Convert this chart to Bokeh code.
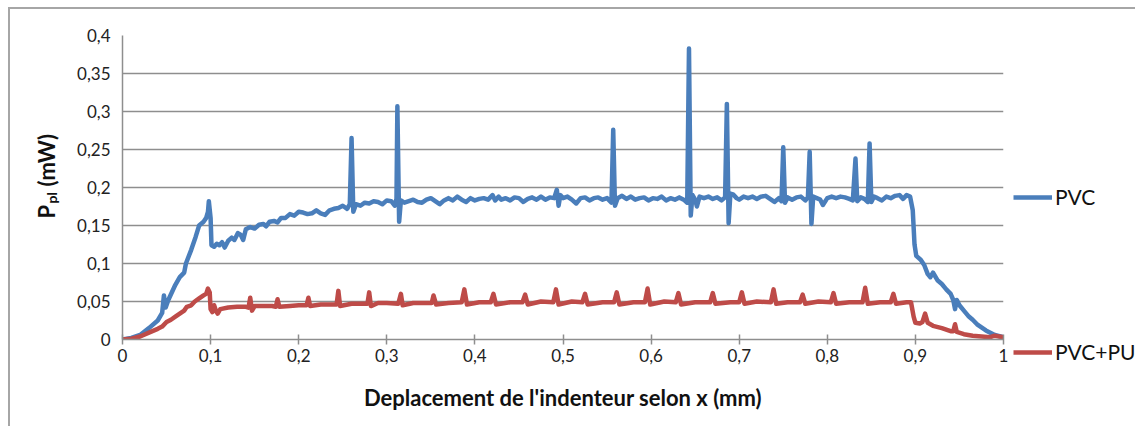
import math
from bokeh.plotting import figure
from bokeh.layouts import row
from bokeh.models import Legend, LegendItem, FixedTicker, Range1d
from bokeh.core.properties import value
from bokeh.embed import file_html
from bokeh.resources import INLINE

# ---- data ----
pvc_x = [0.000, 0.010, 0.020, 0.030, 0.040, 0.045, 0.047, 0.049, 0.052, 0.060, 0.065, 0.070, 0.072, 0.078,
         0.083, 0.087, 0.092, 0.095, 0.097, 0.098, 0.100, 0.101, 0.104, 0.107, 0.110, 0.113, 0.116, 0.120,
         0.124, 0.127, 0.131, 0.134, 0.137, 0.140, 0.145, 0.150, 0.155, 0.160, 0.163, 0.167, 0.172, 0.176,
         0.180, 0.185, 0.190, 0.195, 0.200, 0.205, 0.210, 0.215, 0.220, 0.225, 0.230, 0.235, 0.240, 0.245,
         0.250, 0.255, 0.258, 0.260, 0.262, 0.265, 0.270, 0.275, 0.280, 0.285, 0.290, 0.295, 0.300, 0.305,
         0.309, 0.311, 0.312, 0.314, 0.316, 0.320, 0.325, 0.330, 0.335, 0.340, 0.345, 0.350, 0.355, 0.360,
         0.365, 0.370, 0.375, 0.380, 0.385, 0.390, 0.395, 0.400, 0.405, 0.410, 0.415, 0.420, 0.423, 0.427,
         0.430, 0.435, 0.440, 0.445, 0.450, 0.455, 0.460, 0.465, 0.470, 0.475, 0.480, 0.485, 0.490, 0.493,
         0.495, 0.497, 0.500, 0.505, 0.510, 0.515, 0.520, 0.525, 0.530, 0.535, 0.540, 0.545, 0.550, 0.555,
         0.557, 0.559, 0.562, 0.567, 0.572, 0.577, 0.582, 0.587, 0.592, 0.597, 0.602, 0.607, 0.612, 0.617,
         0.622, 0.627, 0.632, 0.637, 0.641, 0.643, 0.645, 0.647, 0.650, 0.652, 0.655, 0.660, 0.665, 0.670,
         0.675, 0.680, 0.684, 0.686, 0.688, 0.690, 0.693, 0.697, 0.700, 0.705, 0.710, 0.715, 0.720, 0.725,
         0.730, 0.735, 0.740, 0.745, 0.748, 0.750, 0.752, 0.755, 0.760, 0.765, 0.770, 0.775, 0.778, 0.780,
         0.782, 0.784, 0.788, 0.792, 0.795, 0.800, 0.805, 0.810, 0.815, 0.820, 0.825, 0.829, 0.832, 0.834,
         0.838, 0.842, 0.846, 0.848, 0.850, 0.853, 0.857, 0.862, 0.867, 0.872, 0.877, 0.882, 0.886, 0.890,
         0.894, 0.897, 0.899, 0.901, 0.906, 0.910, 0.914, 0.917, 0.920, 0.925, 0.930, 0.935, 0.940, 0.943,
         0.945, 0.947, 0.950, 0.955, 0.960, 0.965, 0.970, 0.975, 0.980, 0.985, 0.990, 1.000]
pvc_y = [0.000, 0.002, 0.006, 0.015, 0.025, 0.035, 0.058, 0.042, 0.052, 0.072, 0.082, 0.088, 0.100, 0.118,
         0.135, 0.150, 0.155, 0.160, 0.168, 0.182, 0.160, 0.124, 0.122, 0.126, 0.124, 0.128, 0.121, 0.130,
         0.134, 0.131, 0.140, 0.138, 0.131, 0.145, 0.148, 0.146, 0.151, 0.152, 0.149, 0.155, 0.156, 0.154,
         0.160, 0.160, 0.165, 0.163, 0.168, 0.167, 0.165, 0.166, 0.170, 0.166, 0.164, 0.170, 0.172, 0.173,
         0.176, 0.172, 0.178, 0.265, 0.168, 0.178, 0.176, 0.180, 0.179, 0.182, 0.181, 0.178, 0.183, 0.182,
         0.176, 0.185, 0.307, 0.155, 0.183, 0.180, 0.182, 0.184, 0.181, 0.180, 0.184, 0.186, 0.182, 0.178,
         0.183, 0.186, 0.183, 0.188, 0.184, 0.181, 0.186, 0.183, 0.185, 0.186, 0.184, 0.190, 0.183, 0.188,
         0.184, 0.186, 0.183, 0.187, 0.186, 0.181, 0.185, 0.187, 0.184, 0.188, 0.184, 0.187, 0.186, 0.197,
         0.176, 0.190, 0.186, 0.188, 0.184, 0.179, 0.186, 0.187, 0.183, 0.186, 0.187, 0.184, 0.186, 0.180,
         0.276, 0.176, 0.186, 0.189, 0.185, 0.188, 0.184, 0.186, 0.187, 0.183, 0.186, 0.185, 0.188, 0.183,
         0.186, 0.184, 0.187, 0.184, 0.180, 0.383, 0.163, 0.190, 0.184, 0.175, 0.188, 0.186, 0.188, 0.185,
         0.187, 0.183, 0.187, 0.310, 0.153, 0.192, 0.191, 0.186, 0.184, 0.188, 0.186, 0.188, 0.185, 0.188,
         0.189, 0.185, 0.181, 0.186, 0.182, 0.253, 0.180, 0.187, 0.184, 0.187, 0.188, 0.183, 0.187, 0.247,
         0.152, 0.188, 0.186, 0.184, 0.177, 0.186, 0.188, 0.186, 0.188, 0.187, 0.185, 0.183, 0.238, 0.182,
         0.187, 0.185, 0.181, 0.258, 0.181, 0.188, 0.186, 0.183, 0.188, 0.186, 0.189, 0.190, 0.185, 0.190,
         0.188, 0.170, 0.125, 0.110, 0.105, 0.098, 0.086, 0.082, 0.088, 0.078, 0.073, 0.066, 0.060, 0.052,
         0.040, 0.052, 0.045, 0.038, 0.031, 0.026, 0.020, 0.016, 0.012, 0.009, 0.006, 0.003]

pu_x = [0.000, 0.010, 0.020, 0.030, 0.040, 0.045, 0.050, 0.055, 0.060, 0.065, 0.070, 0.073, 0.078, 0.082,
        0.087, 0.092, 0.095, 0.097, 0.099, 0.100, 0.102, 0.104, 0.106, 0.108, 0.111, 0.120, 0.130, 0.140,
        0.143, 0.145, 0.147, 0.150, 0.160, 0.170, 0.174, 0.176, 0.178, 0.190, 0.200, 0.209, 0.211, 0.213,
        0.225, 0.235, 0.243, 0.245, 0.247, 0.260, 0.270, 0.278, 0.280, 0.282, 0.290, 0.300, 0.313, 0.316,
        0.318, 0.330, 0.345, 0.351, 0.353, 0.356, 0.370, 0.385, 0.388, 0.391, 0.405, 0.418, 0.421, 0.424,
        0.440, 0.454, 0.457, 0.460, 0.475, 0.489, 0.492, 0.495, 0.510, 0.522, 0.525, 0.528, 0.545, 0.558,
        0.561, 0.564, 0.580, 0.593, 0.596, 0.599, 0.615, 0.628, 0.631, 0.634, 0.650, 0.667, 0.670, 0.673,
        0.690, 0.700, 0.703, 0.706, 0.720, 0.736, 0.739, 0.742, 0.755, 0.769, 0.772, 0.775, 0.790, 0.804,
        0.807, 0.810, 0.825, 0.840, 0.843, 0.846, 0.860, 0.872, 0.875, 0.878, 0.890, 0.895, 0.898, 0.900,
        0.905, 0.908, 0.911, 0.914, 0.920, 0.930, 0.940, 0.943, 0.945, 0.947, 0.955, 0.965, 0.975, 0.985,
        0.990, 1.000]
pu_y = [0.000, 0.001, 0.004, 0.009, 0.014, 0.017, 0.023, 0.026, 0.030, 0.034, 0.038, 0.043, 0.045, 0.050,
        0.054, 0.058, 0.060, 0.067, 0.062, 0.040, 0.036, 0.045, 0.038, 0.034, 0.040, 0.042, 0.043, 0.043,
        0.042, 0.055, 0.038, 0.044, 0.044, 0.044, 0.043, 0.053, 0.043, 0.044, 0.045, 0.045, 0.055, 0.044,
        0.046, 0.046, 0.046, 0.064, 0.044, 0.047, 0.047, 0.047, 0.062, 0.044, 0.048, 0.048, 0.047, 0.060,
        0.045, 0.048, 0.048, 0.048, 0.058, 0.046, 0.048, 0.049, 0.066, 0.046, 0.049, 0.049, 0.060, 0.046,
        0.049, 0.049, 0.059, 0.046, 0.050, 0.049, 0.066, 0.046, 0.050, 0.049, 0.060, 0.046, 0.049, 0.049,
        0.062, 0.046, 0.049, 0.049, 0.067, 0.046, 0.050, 0.049, 0.061, 0.046, 0.049, 0.049, 0.061, 0.047,
        0.049, 0.049, 0.062, 0.047, 0.050, 0.049, 0.066, 0.047, 0.049, 0.049, 0.059, 0.047, 0.050, 0.049,
        0.061, 0.047, 0.049, 0.049, 0.068, 0.047, 0.049, 0.049, 0.060, 0.047, 0.049, 0.049, 0.030, 0.022,
        0.021, 0.023, 0.034, 0.022, 0.018, 0.015, 0.011, 0.011, 0.020, 0.010, 0.007, 0.005, 0.004, 0.003,
        0.005, 0.003]

x_ticks = [0.0, 0.1, 0.2, 0.3, 0.4, 0.5, 0.6, 0.7, 0.8, 0.9, 1.0]
x_tick_labels = ["0", "0,1", "0,2", "0,3", "0,4", "0,5", "0,6", "0,7", "0,8", "0,9", "1"]
y_ticks = [0.0, 0.05, 0.1, 0.15, 0.2, 0.25, 0.3, 0.35, 0.4]
y_tick_labels = ["0", "0,05", "0,1", "0,15", "0,2", "0,25", "0,3", "0,35", "0,4"]

series_names = ["PVC", "PVC+PU"]
series_colors = ["#4a7ebb", "#be4b48"]
y_title_parts = ["P", "pl", "(mW)"]

FONT = "Lato"
GRID = "#8e8e8e"
FRAME_H = 304
TOP_B = 26
BOTTOM_B = 87
LEFT_W = 50

# ---- narrow panel that carries the rotated y-axis title (its frame aligns with the main frame) ----
yl = figure(width=LEFT_W, height=TOP_B + FRAME_H + BOTTOM_B, output_backend="svg", toolbar_location=None,
            x_range=Range1d(0, LEFT_W), y_range=Range1d(0, FRAME_H),
            x_axis_location=None, y_axis_location=None,
            min_border_left=0, min_border_right=0, min_border_top=TOP_B, min_border_bottom=BOTTOM_B)
yl.outline_line_color = None
yl.grid.grid_line_color = None
yl.border_fill_color = "white"
txt_kw = dict(angle=math.pi / 2, text_font=value(FONT), text_font_style="bold", text_color="#111111",
              text_baseline="middle", text_align="left")
yl.text(x=[36], y=[121], text=[y_title_parts[0]], text_font_size="22px", **txt_kw)
yl.text(x=[41], y=[136], text=[y_title_parts[1]], text_font_size="14px", **txt_kw)
yl.text(x=[36], y=[153], text=[y_title_parts[2]], text_font_size="22px", **txt_kw)

# ---- main chart ----
p = figure(frame_width=881, frame_height=FRAME_H, output_backend="svg", toolbar_location=None,
           x_range=Range1d(0, 1), y_range=Range1d(0, 0.4),
           min_border_left=62, min_border_right=132, min_border_top=TOP_B, min_border_bottom=BOTTOM_B)
p.background_fill_color = "white"
p.border_fill_color = "white"
p.outline_line_color = None

r1 = p.line(pvc_x, pvc_y, line_color=series_colors[0], line_width=4.5, line_join="round")
r2 = p.line(pu_x, pu_y, line_color=series_colors[1], line_width=4.5, line_join="round")

p.xaxis.ticker = FixedTicker(ticks=x_ticks)
p.xaxis.major_label_overrides = {t: l for t, l in zip(x_ticks, x_tick_labels)}
p.yaxis.ticker = FixedTicker(ticks=y_ticks)
p.yaxis.major_label_overrides = {t: l for t, l in zip(y_ticks, y_tick_labels)}
for ax in (p.xaxis[0], p.yaxis[0]):
    ax.axis_line_color = GRID
    ax.axis_line_width = 1.5
    ax.major_tick_line_color = GRID
    ax.major_tick_line_width = 1.5
    ax.minor_tick_line_color = None
    ax.major_label_text_font = FONT
    ax.major_label_text_font_size = "17px"
    ax.major_label_text_color = "#222222"
p.xaxis.major_tick_in = 5
p.xaxis.major_tick_out = 5
p.xaxis.major_label_standoff = 4
p.yaxis.major_tick_in = 0
p.yaxis.major_tick_out = 0
p.yaxis.major_label_standoff = 12

p.xaxis.axis_label = "Deplacement de l'indenteur selon x (mm)"
p.xaxis.axis_label_text_font = FONT
p.xaxis.axis_label_text_font_size = "22px"
p.xaxis.axis_label_text_font_style = "bold"
p.xaxis.axis_label_text_color = "#111111"
p.xaxis.axis_label_standoff = 19

p.xgrid.grid_line_color = None
p.ygrid.grid_line_color = GRID
p.ygrid.grid_line_width = 1.5

lg = Legend(items=[LegendItem(label=series_names[0], renderers=[r1]),
                   LegendItem(label=series_names[1], renderers=[r2])],
            location=(10, -25), spacing=130,
            glyph_width=39, glyph_height=20, label_standoff=3, padding=0, margin=0,
            border_line_color=None, background_fill_alpha=0,
            label_text_font=FONT, label_text_font_size="21px", label_text_color="#111111")
p.add_layout(lg, "right")

layout = row(yl, p, spacing=0,
             styles={"margin-left": "8px", "margin-top": "7px",
                     "border-left": "2px solid #a6a6a6", "border-top": "2px solid #a6a6a6"})

open("out.html", "w").write(file_html(layout, INLINE))
